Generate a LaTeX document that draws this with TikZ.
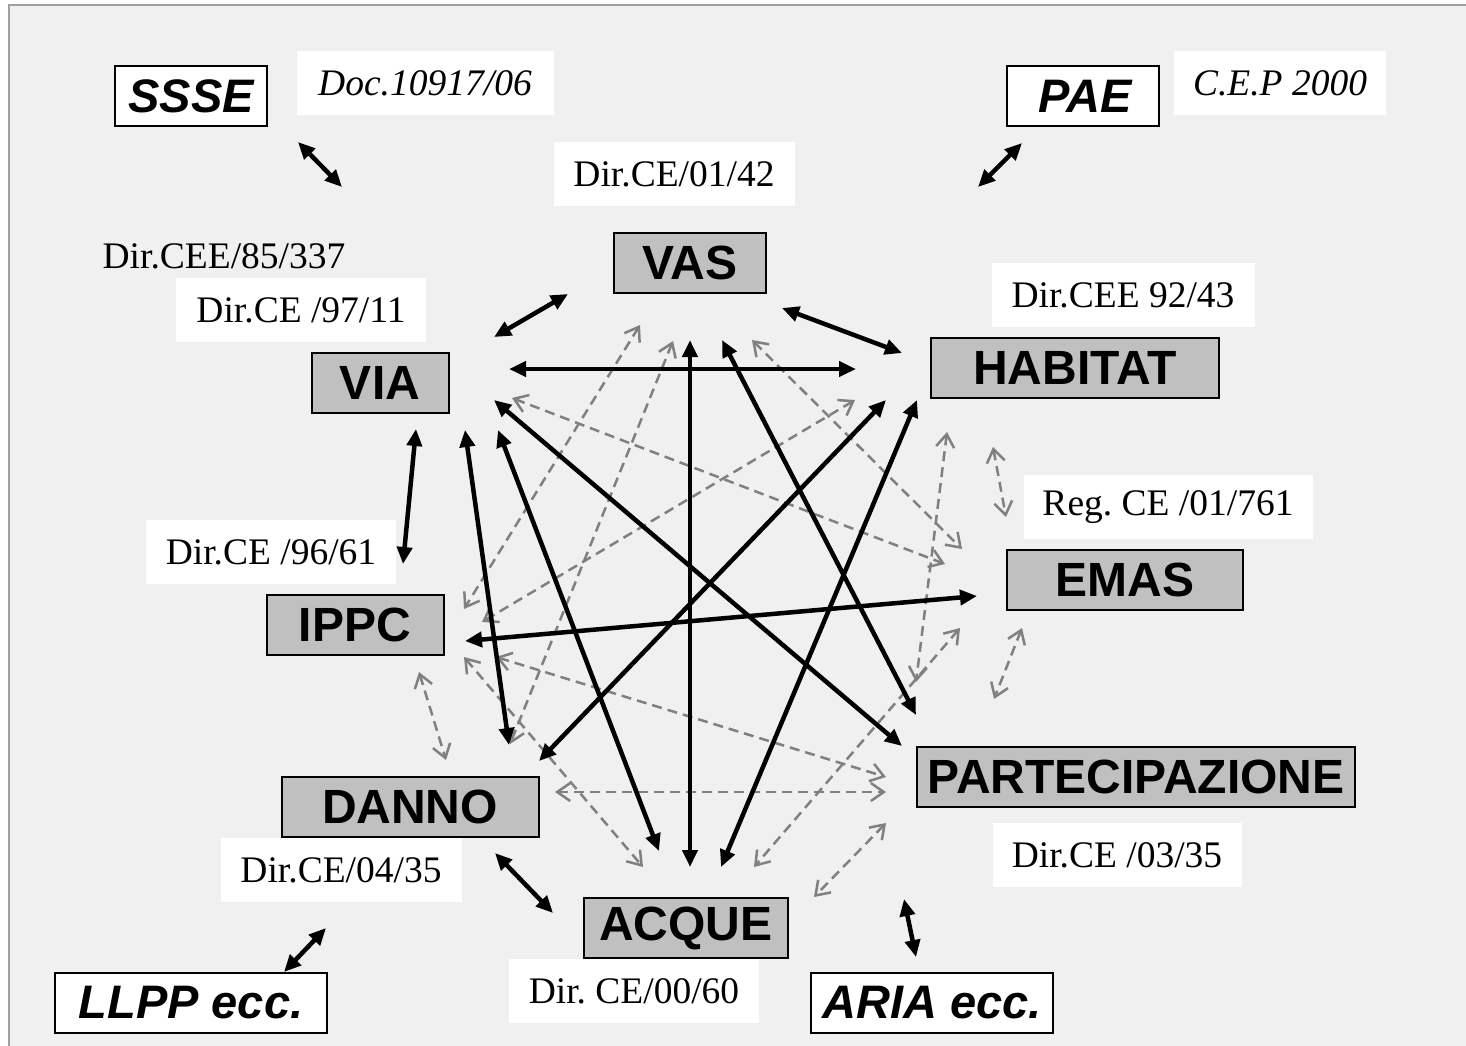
\documentclass[tikz,border=0pt]{standalone}
\usepackage{fontspec}
\setmainfont{Liberation Serif}
\setsansfont{Liberation Sans}
\usetikzlibrary{arrows.meta,calc}
\definecolor{paper}{HTML}{F0F0F0}
\definecolor{boxgray}{HTML}{C0C0C0}
\definecolor{dashgray}{HTML}{808080}
\definecolor{framegray}{HTML}{A0A0A0}
\frenchspacing
\begin{document}
\begin{tikzpicture}[x=1pt,y=-1pt,
	>={Triangle[length=17pt,width=15pt]}]

	\tikzstyle{topic}=[rectangle, minimum height=60pt, inner sep=0pt,
	fill=boxgray, draw, line width=2pt,
	font=\fontsize{48}{52}\selectfont\sffamily\bfseries]

	\tikzstyle{outer}=[rectangle, minimum height=60pt, inner sep=0pt,
	fill=white, draw, line width=1.6pt,
	font=\fontsize{47}{52}\selectfont\sffamily\bfseries\itshape]

	\tikzstyle{law}=[rectangle, minimum height=64pt, inner sep=0pt,
	fill=white, font=\fontsize{37.5}{40}\selectfont\rmfamily]

	\tikzstyle{strong}=[<->, line width=4.5pt]

	\tikzstyle{weak}=[{Straight Barb[length=13pt,width=18pt]}-{Straight Barb[length=13pt,width=18pt]},
	draw=dashgray, line width=2.5pt, dash pattern=on 10pt off 6pt]

	\useasboundingbox (0,0) rectangle (1466,1045);
	\draw[framegray, fill=paper, line width=1.5pt] (9,5) rectangle (1490,1070);

	%main topics
	\node[topic, minimum width=152pt] (vas) at (690,263) {VAS};
	\node[topic, minimum width=137pt] (via) at (380,383) {VIA};
	\node[topic, minimum width=288pt] (habitat) at (1075,368) {HABITAT};
	\node[topic, minimum width=236pt] (emas) at (1125,580) {EMAS};
	\node[topic, minimum width=177pt] (ippc) at (355,625) {IPPC};
	\node[topic, minimum width=257pt] (danno) at (410,807) {DANNO};
	\node[topic, minimum width=438pt] (part) at (1136,777) {PARTECIPAZIONE};
	\node[topic, minimum width=204pt] (acque) at (686,928) {ACQUE};

	%outer topics
	\node[outer, minimum width=152pt] (ssse) at (191,96) {SSSE};
	\node[outer, minimum width=152pt] (pae) at (1083,96) {\hspace{4pt}PAE};
	\node[outer, minimum width=272pt] (llpp) at (191,1003) {LLPP ecc.};
	\node[outer, minimum width=242pt] (aria) at (932,1003) {ARIA ecc.};

	%references
	\node[law, minimum width=257pt, font=\fontsize{37.5}{40}\selectfont\itshape] (docRef) at (425,83) {Doc.10917/06};
	\node[law, minimum width=212pt, font=\fontsize{37.5}{40}\selectfont\itshape] (cepRef) at (1280,83) {C.E.P 2000};
	\node[law, minimum width=241pt] (vasRef) at (674,174) {Dir.CE/01/42};
	\node[law, fill=none] (viaRefA) at (224,256) {Dir.CEE/85/337};
	\node[law, minimum width=250pt] (viaRefB) at (301,310) {Dir.CE /97/11};
	\node[law, minimum width=263pt] (habitatRef) at (1123,295) {Dir.CEE 92/43};
	\node[law, minimum width=289pt] (emasRef) at (1168,507) {Reg. CE /01/761};
	\node[law, minimum width=250pt] (ippcRef) at (271,552) {Dir.CE /96/61};
	\node[law, minimum width=241pt] (dannoRef) at (341,870) {Dir.CE/04/35};
	\node[law, minimum width=249pt] (partRef) at (1117,855) {Dir.CE /03/35};
	\node[law, minimum width=250pt] (acqueRef) at (634,991) {Dir. CE/00/60};

	%weak links
	\draw[weak] ($(vas)+(-50,62)$) -- ($(ippc)+(109,-16)$);
	\draw[weak] ($(vas)+(-17,78)$) -- ($(danno)+(100,-63)$);
	\draw[weak] ($(vas)+(62,77)$) -- ($(emas)+(-163,-31)$);
	\draw[weak] ($(via)+(132,15)$) -- ($(emas)+(-180,-16)$);
	\draw[weak] ($(habitat)+(-220,32)$) -- ($(ippc)+(127,-3)$);
	\draw[weak] ($(habitat)+(-128,64)$) -- ($(part)+(-220,-95)$);
	\draw[weak] ($(habitat)+(-82,79)$) -- ($(emas)+(-119,-63)$);
	\draw[weak] ($(emas)+(-103,48)$) -- ($(part)+(-142,-78)$);
	\draw[weak] ($(emas)+(-165,48)$) -- ($(acque)+(68,-61)$);
	\draw[weak] ($(ippc)+(64,47)$) -- ($(danno)+(36,-47)$);
	\draw[weak] ($(ippc)+(141,32)$) -- ($(part)+(-250,0)$);
	\draw[weak] ($(ippc)+(109,32)$) -- ($(acque)+(-43,-61)$);
	\draw[weak] ($(danno)+(145,-15)$) -- ($(part)+(-250,15)$);
	\draw[weak] ($(part)+(-250,46)$) -- ($(acque)+(128,-31)$);

	%strong links
	\draw[strong] ($(via)+(114,-46)$) -- ($(vas)+(-122,31)$);
	\draw[strong] ($(vas)+(92,45)$) -- ($(habitat)+(-173,-15)$);
	\draw[strong] ($(via)+(129,-14)$) -- ($(habitat)+(-219,1)$);
	\draw[strong] ($(vas)+(0,77)$) -- ($(acque)+(4,-61)$);
	\draw[strong] ($(vas)+(32,77)$) -- ($(part)+(-220,-62)$);
	\draw[strong] ($(via)+(36,46)$) -- ($(ippc)+(48,-61)$);
	\draw[strong] ($(via)+(85,47)$) -- ($(danno)+(99,-62)$);
	\draw[strong] ($(via)+(118,47)$) -- ($(acque)+(-27,-77)$);
	\draw[strong] ($(via)+(114,17)$) -- ($(part)+(-234,-31)$);
	\draw[strong] ($(habitat)+(-189,32)$) -- ($(danno)+(129,-46)$);
	\draw[strong] ($(habitat)+(-158,32)$) -- ($(acque)+(35,-61)$);
	\draw[strong] ($(emas)+(-148,16)$) -- ($(ippc)+(110,16)$);
	\draw[strong] ($(danno)+(85,46)$) -- ($(acque)+(-133,-15)$);

	%outer links
	\draw[strong] ($(ssse)+(107,46)$) -- ($(ssse)+(151,91)$);
	\draw[strong] ($(pae)+(-105,91)$) -- ($(pae)+(-61,47)$);
	\draw[strong] ($(llpp)+(93,-31)$) -- ($(llpp)+(135,-75)$);
	\draw[strong] ($(aria)+(-28,-104)$) -- ($(aria)+(-16,-46)$);

\end{tikzpicture}
\end{document}
